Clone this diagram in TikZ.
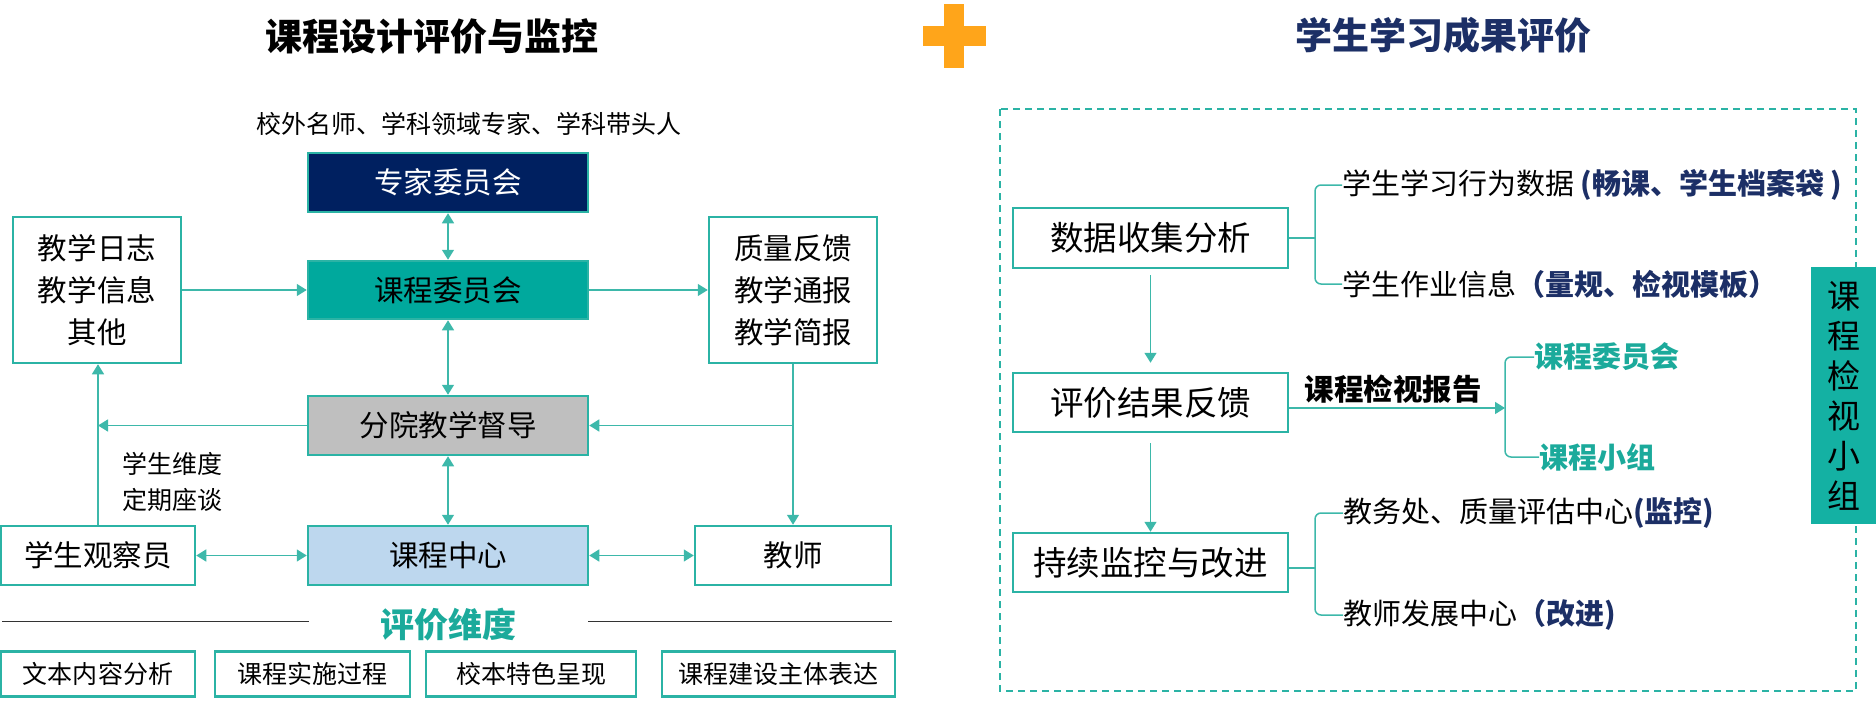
\documentclass[tikz,border=0pt]{standalone}
\usepackage{fontspec}
\setmainfont{Noto Sans CJK SC}
\usetikzlibrary{arrows.meta}
\definecolor{teal1}{HTML}{2BB3A5}
\definecolor{tealfill}{HTML}{00A99D}
\definecolor{tealt}{HTML}{1BAA9B}
\definecolor{navy}{HTML}{002060}
\definecolor{navyt}{HTML}{1C2F66}
\definecolor{grayfill}{HTML}{BFBFBF}
\definecolor{bluefill}{HTML}{BDD7EE}
\definecolor{orange1}{HTML}{FFA51A}
\definecolor{vboxfill}{HTML}{14B1A3}
\definecolor{lineteal}{HTML}{3DB8AA}
\newcommand{\myfs}[2]{\fontsize{#1bp}{#2bp}\selectfont}
\begin{document}
\begin{tikzpicture}[x=1bp,y=-1bp,
  box/.style={draw=teal1,line width=2.5bp,inner sep=0pt,font=\myfs{29.5}{35}},
  bbox/.style={draw=teal1,line width=2.5bp,inner sep=0pt,minimum height=45bp,font=\myfs{25}{30}},
  arr/.style={draw=lineteal,line width=1.5bp,-{Triangle[width=12bp,length=10bp]}},
  darr/.style={draw=lineteal,line width=1.5bp,{Triangle[width=12bp,length=10bp]}-{Triangle[width=12bp,length=10bp]}},
  brk/.style={draw=lineteal,line width=1.5bp},
  rt/.style={anchor=west,inner sep=0pt,font=\myfs{29}{29}},
  ttl/.style={font=\bfseries\myfs{37}{37}}
]
\useasboundingbox (0,0) rectangle (1876,705);
% titles
\node[ttl] (t1) at (432,36) {课程设计评价与监控};
\node[ttl,text=navyt] (t2) at (1443,35) {学生学习成果评价};
\fill[orange1] (944,4) rectangle (964,68);
\fill[orange1] (923,26) rectangle (986,46);
% left part
\node[font=\myfs{25}{25}] (ext) at (469,124) {校外名师、学科领域专家、学科带头人};
\node[box,fill=navy,text=white,minimum width=280bp,minimum height=59bp] (zj) at (448,182.5) {专家委员会};
\node[box,fill=tealfill,minimum width=280bp,minimum height=58bp] (kc) at (448,290) {课程委员会};
\node[box,minimum width=168bp,minimum height=146bp,align=center,font=\myfs{29.5}{42}] (lb) at (97,290) {教学日志\\教学信息\\其他};
\node[box,minimum width=168bp,minimum height=146bp,align=center,font=\myfs{29.5}{42}] (rb) at (793,290) {质量反馈\\教学通报\\教学简报};
\node[box,fill=grayfill,minimum width=280bp,minimum height=59bp] (fy) at (448,425.5) {分院教学督导};
\node[box,fill=bluefill,minimum width=280bp,minimum height=59bp] (zx) at (448,555.5) {课程中心};
\node[box,minimum width=194bp,minimum height=59bp] (gc) at (98,555.5) {学生观察员};
\node[box,minimum width=196bp,minimum height=59bp] (js) at (793,555.5) {教师};
\node[anchor=west,align=left,font=\myfs{25}{36}] (wd) at (119,482) {学生维度\\定期座谈};
\draw[darr] (zj) -- (kc);
\draw[darr] (kc) -- (fy);
\draw[darr] (fy) -- (zx);
\draw[arr] (lb) -- (kc);
\draw[arr] (kc) -- (rb);
\draw[arr] (gc.north) -- (gc.north |- lb.south);
\draw[arr] (fy.west) -- (fy.west -| gc.north);
\draw[arr] (rb.south) -- (rb.south |- js.north);
\coordinate (jn) at (rb.south |- fy.east);
\draw[arr] (jn) -- (fy.east);
\draw[darr] (gc) -- (zx);
\draw[darr] (zx) -- (js);
% evaluation dimensions
\node[font=\bfseries\myfs{34}{34},text=tealt] (pj) at (448,625) {评价维度};
\coordinate (l1) at (2,621);
\coordinate (l2) at (309,621);
\coordinate (l3) at (588,621);
\coordinate (l4) at (892,621);
\draw[black!80,line width=1bp] (l1) -- (l2);
\draw[black!80,line width=1bp] (l3) -- (l4);
\node[bbox,minimum width=194bp] (b1) at (98,674) {文本内容分析};
\node[bbox,minimum width=195bp] (b2) at (312.5,674) {课程实施过程};
\node[bbox,minimum width=210bp] (b3) at (531,674) {校本特色呈现};
\node[bbox,minimum width=233bp] (b4) at (778.5,674) {课程建设主体表达};
% right part
\draw[teal1,line width=2bp,dash pattern=on 7bp off 5bp] (1000,109) rectangle (1856,691);
\node[box,minimum width=275bp,minimum height=60bp,font=\myfs{33.5}{40}] (d1) at (1150.5,238) {数据收集分析};
\node[box,minimum width=275bp,minimum height=59bp,font=\myfs{33.5}{40}] (d2) at (1150.5,402.5) {评价结果反馈};
\node[box,minimum width=275bp,minimum height=59bp,font=\myfs{33.5}{40}] (d3) at (1150.5,562.5) {持续监控与改进};
\draw[arr,shorten <=6bp,shorten >=9bp] (d1) -- (d2);
\draw[arr,shorten <=10bp] (d2) -- (d3);
% bracket 1
\node[rt] (r1) at (1342,185) {学生学习行为数据 {\bfseries\color{navyt}(畅课、学生档案袋 )}};
\node[rt] (r2) at (1342,284) {学生作业信息{\bfseries\color{navyt}（量规、检视模板）}};
\coordinate (bx1) at (1315,238);
\draw[brk] (d1.east) -- (bx1);
\draw[brk,rounded corners=6bp] (r1.west) -| (bx1) |- (r2.west);
% bracket 2
\node[font=\bfseries\myfs{29.5}{30}] (rep) at (1393,389) {课程检视报告};
\coordinate (bx2) at (1505,408);
\draw[arr] (d2.east |- bx2) -- (bx2);
\node[rt,font=\bfseries\myfs{29}{29},text=tealt] (r3) at (1534,357) {课程委员会};
\node[rt,font=\bfseries\myfs{29}{29},text=tealt] (r4) at (1539,457) {课程小组};
\draw[brk,rounded corners=6bp] (r3.west) -| (bx2) |- (r4.west);
% bracket 3
\node[rt] (r5) at (1343,513) {教务处、质量评估中心{\bfseries\color{navyt}(监控)}};
\node[rt] (r6) at (1343,615) {教师发展中心{\bfseries\color{navyt}（改进)}};
\coordinate (bx3) at (1315,568);
\draw[brk] (d3.east |- bx3) -- (bx3);
\draw[brk,rounded corners=6bp] (r5.west) -| (bx3) |- (r6.west);
% vertical box
\node[fill=vboxfill,minimum width=65bp,minimum height=257bp,inner sep=0pt,align=center,font=\myfs{33}{40}] (vb) at (1843.5,395.5) {课\\程\\检\\视\\小\\组};
\end{tikzpicture}
\end{document}
